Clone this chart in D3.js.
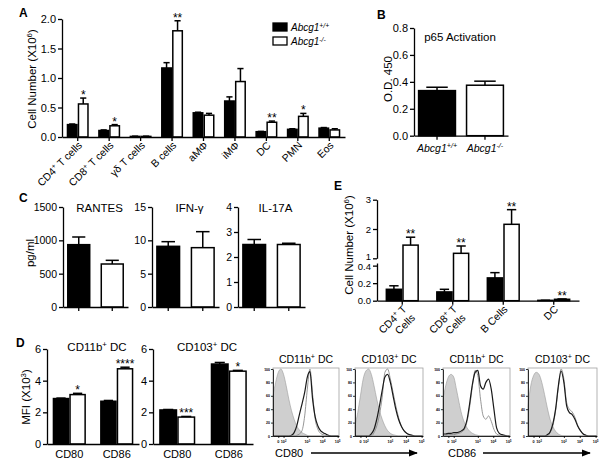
<!DOCTYPE html>
<html><head><meta charset="utf-8">
<script src="https://cdn.jsdelivr.net/npm/d3@7"></script>
<style>
body{margin:0;background:#fff;}
svg{display:block;font-family:"Liberation Sans",Arial,sans-serif;}
</style></head>
<body><svg id="c" width="600" height="464"></svg>
<script>
// ---------------- DATA ----------------
const genotypes = ["Abcg1^{+/+}", "Abcg1^{-/-}"];
// Panel A
const catsA = ["CD4^{+} T cells","CD8^{+} T cells","γδ T cells","B cells","aMΦ","iMΦ","DC","PMN","Eos"];
const wtA    = [0.21, 0.11, 0.01, 1.17, 0.41, 0.61, 0.09, 0.13, 0.15];
const wtErrA = [0.01, 0.01, 0.004, 0.09, 0.01, 0.07, 0.005, 0.01, 0.01];
const koA    = [0.56, 0.19, 0.01, 1.80, 0.37, 0.94, 0.25, 0.35, 0.12];
const koErrA = [0.10, 0.02, 0.004, 0.17, 0.03, 0.22, 0.02, 0.05, 0.02];
const sigA   = ["*","*","","**","","","**","*",""];
const ticksA = [0, 0.5, 1.0, 1.5, 2.0];
// Panel B
const valsB = [0.335, 0.375];
const errsB = [0.025, 0.03];
const ticksB = [0, 0.2, 0.4, 0.6, 0.8];
// Panel C
const titlesC = ["RANTES", "IFN-γ", "IL-17A"];
const valsC = [[935, 645], [9.1, 8.9], [2.5, 2.5]];
const errsC = [[115, 55], [0.7, 2.4], [0.2, 0.05]];
const maxC = [1500, 15, 4];
const ticksC = [[0, 500, 1000, 1500], [0, 5, 10, 15], [0, 1, 2, 3, 4]];
// Panel D
const titlesD = ["CD11b^{+} DC", "CD103^{+} DC"];
const catsD = ["CD80", "CD86"];
const wtD    = [[2.87, 2.70], [2.15, 5.05]];
const wtErrD = [[0.03, 0.05], [0.03, 0.10]];
const koD    = [[3.12, 4.75], [1.70, 4.60]];
const koErrD = [[0.08, 0.10], [0.04, 0.05]];
const sigD   = [["*", "****"], ["***", "*"]];
const ticksD = [0, 2, 4, 6];
// Panel E
const catsE = ["CD4^{+} T\nCells", "CD8^{+} T\nCells", "B Cells", "DC"];
const wtE    = [0.13, 0.10, 0.26, 0.004];
const wtErrE = [0.04, 0.03, 0.06, 0.001];
const koE    = [1.45, 1.17, 2.16, 0.016];
const koErrE = [0.27, 0.25, 0.50, 0.004];
const sigE   = ["**", "**", "**", "**"];
const ticksELow = [0, 0.2, 0.4];
const ticksEHigh = [1, 2, 3];
// Histograms (flow cytometry overlays)
const histTitles = ["CD11b^{+} DC", "CD103^{+} DC", "CD11b^{+} DC", "CD103^{+} DC"];
const histX = [0,0.04,0.08,0.12,0.16,0.20,0.24,0.28,0.32,0.36,0.40,0.44,0.48,0.52,0.56,0.60,0.64,0.68,0.72,0.76,0.80,0.84,0.88,0.92,0.96,1.00];
const histIso = [
  [60,80,95,100,92,75,55,38,25,15,9,5,3,1,0,0,0,0,0,0,0,0,0,0,0,0],
  [15,35,60,85,97,100,92,75,55,38,25,15,8,4,2,1,0,0,0,0,0,0,0,0,0,0],
  [55,75,88,92,88,70,50,32,20,12,7,4,2,1,0,0,0,0,0,0,0,0,0,0,0,0],
  [45,75,90,95,92,80,62,42,25,14,7,3,1,0,0,0,0,0,0,0,0,0,0,0,0,0]];
const histKo = [
  [0,0,0,0,0,0,0,1,5,15,32,48,65,88,96,55,28,15,8,5,3,1,0,0,0,0],
  [0,0,0,0,0,0,3,10,25,45,68,88,92,80,60,40,25,15,8,4,2,1,0,0,0,0],
  [3,3,4,4,5,5,6,8,12,25,50,78,95,98,75,70,80,85,70,40,12,4,2,1,0,0],
  [0,0,0,0,0,0,0,2,6,18,40,75,97,80,45,35,32,25,15,8,3,1,0,0,0,0]];
const histWt = [
  [0,0,0,0,0,0,0,0,0,1,3,8,30,70,100,62,25,10,4,2,1,0,0,0,0,0],
  [0,0,0,0,0,0,0,5,15,32,58,95,100,85,65,45,28,15,8,4,2,1,0,0,0,0],
  [1,1,2,2,2,3,4,6,10,22,45,75,98,90,55,30,25,30,22,10,3,1,0,0,0,0],
  [0,0,0,0,0,0,0,0,5,15,38,72,100,85,50,40,36,28,16,8,3,1,0,0,0,0]];
const histXTicks = [0.08, 0.16, 0.52, 0.75, 0.98];
const histXTickLabels = ["0", "10^{2}", "10^{3}", "10^{4}", "10^{5}"];
const histYTicks = [0, 20, 40, 60, 80, 100];
const markerLabels = ["CD80", "CD86"];

// ---------------- HELPERS ----------------
const svg = d3.select("#c");
function rich(t, s) {
  s.split(/(\^\{[^}]*\})/).forEach(p => {
    if (!p) return;
    if (p.startsWith("^{")) t.append("tspan").attr("baseline-shift", "super").attr("font-size", "68%").text(p.slice(2, -1));
    else t.append("tspan").text(p);
  });
  return t;
}
function text(x, y, s, o = {}) {
  const t = svg.append("text").attr("x", x).attr("y", y)
    .attr("font-size", o.size || 11).attr("text-anchor", o.anchor || "start")
    .attr("font-weight", o.weight || "normal").attr("font-style", o.style || "normal");
  if (o.transform) t.attr("transform", o.transform);
  return rich(t, s);
}
function styleAxis(g, fs) {
  g.selectAll(".domain").attr("stroke", "#000").attr("stroke-width", 1.3);
  g.selectAll(".tick line").attr("stroke", "#000").attr("stroke-width", 1.3);
  g.selectAll(".tick text").attr("font-size", fs || 10.5).attr("fill", "#000")
    .attr("font-family", '"Liberation Sans",Arial,sans-serif');
}
function yAxis(x, y, ticks, fmt, fs) {
  const g = svg.append("g").attr("transform", `translate(${x},0)`)
    .call(d3.axisLeft(y).tickValues(ticks).tickSize(4).tickSizeOuter(0).tickPadding(2).tickFormat(fmt));
  styleAxis(g, fs);
  return g;
}
function xAxis(x, yPos) {
  const g = svg.append("g").attr("transform", `translate(0,${yPos})`)
    .call(d3.axisBottom(x).tickSize(4).tickSizeOuter(0).tickFormat(""));
  styleAxis(g);
  return g;
}
function bar(bx, bw, y, v, e, fill) {
  svg.append("line").attr("x1", bx + bw / 2).attr("x2", bx + bw / 2).attr("y1", y(v)).attr("y2", y(v + e))
    .attr("stroke", "#000").attr("stroke-width", 1.5);
  svg.append("line").attr("x1", bx + bw / 2 - bw * 0.28).attr("x2", bx + bw / 2 + bw * 0.28)
    .attr("y1", y(v + e)).attr("y2", y(v + e)).attr("stroke", "#000").attr("stroke-width", 1.5);
  svg.append("rect").attr("x", bx + 0.75).attr("y", y(v)).attr("width", Math.max(0, bw - 1.5))
    .attr("height", Math.max(0, y(0) - y(v))).attr("fill", fill).attr("stroke", "#000").attr("stroke-width", 1.5);
}
function grouped(cats, range, pi, po, y, series, sig, starSize) {
  const x = d3.scaleBand().domain(cats).range(range).paddingInner(pi).paddingOuter(po);
  const xi = d3.scaleBand().domain(d3.range(series.length)).range([0, x.bandwidth()]);
  cats.forEach((c, i) => {
    series.forEach((s, si) => bar(x(c) + xi(si), xi.bandwidth(), y, s.vals[i], s.errs[i], s.fill));
    if (sig && sig[i]) {
      const last = series[series.length - 1];
      text(x(c) + xi(series.length - 1) + xi.bandwidth() / 2, y(last.vals[i] + last.errs[i]) + 1, sig[i],
        { anchor: "middle", size: starSize || 12 });
    }
  });
  return x;
}

// ---------------- PANEL A ----------------
text(19, 17, "A", { size: 12, weight: "bold" });
const yA = d3.scaleLinear().domain([0, 2]).range([137, 19]);
yAxis(62, yA, ticksA, d3.format(".1f"), 11);
const xA = grouped(catsA, [62, 345], 0.3, 0.15, yA,
  [{ vals: wtA, errs: wtErrA, fill: "#000" }, { vals: koA, errs: koErrA, fill: "#fff" }], sigA);
xAxis(xA, 137);
catsA.forEach(c => text(xA(c) + xA.bandwidth() / 2 + 5, 146, c,
  { anchor: "end", size: 10.5, transform: `rotate(-45,${xA(c) + xA.bandwidth() / 2 + 5},146)` }));
text(36, 79, "Cell Number (X10^{6})", { anchor: "middle", size: 11.5, transform: "rotate(-90,36,79)" });
// legend
const legY = d3.scaleBand().domain(genotypes).range([22, 50]);
genotypes.forEach((gname, i) => {
  svg.append("rect").attr("x", 273).attr("y", legY(gname) + 1).attr("width", 14).attr("height", 8)
    .attr("fill", i ? "#fff" : "#000").attr("stroke", "#000").attr("stroke-width", 1.3);
  text(291, legY(gname) + 9, gname, { size: 10, style: "italic" });
});

// ---------------- PANEL B ----------------
text(377, 19, "B", { size: 12, weight: "bold" });
const yB = d3.scaleLinear().domain([0, 0.8]).range([135.7, 28]);
yAxis(414, yB, ticksB, d3.format(".1f"), 11);
const xB = d3.scaleBand().domain(genotypes).range([414, 508]).paddingInner(0.2).paddingOuter(0.08);
genotypes.forEach((gname, i) => bar(xB(gname), xB.bandwidth(), yB, valsB[i], errsB[i], i ? "#fff" : "#000"));
xAxis(xB, 135.7);
genotypes.forEach(gname => text(xB(gname) + xB.bandwidth() / 2, 152, gname, { anchor: "middle", size: 10.5, style: "italic" }));
text(460, 41, "p65 Activation", { anchor: "middle", size: 11.5 });
text(392, 79, "O.D. 450", { anchor: "middle", size: 11.5, transform: "rotate(-90,392,79)" });

// ---------------- PANEL C ----------------
text(19, 202, "C", { size: 12, weight: "bold" });
const rangesC = [[63, 128], [152, 219], [238, 305]];
titlesC.forEach((t, k) => {
  const y = d3.scaleLinear().domain([0, maxC[k]]).range([307, 207]);
  yAxis(rangesC[k][0], y, ticksC[k], d3.format("d"), 10.5);
  const x = d3.scaleBand().domain(genotypes).range(rangesC[k]).paddingInner(0.3).paddingOuter(0.12);
  genotypes.forEach((gname, i) => bar(x(gname), x.bandwidth(), y, valsC[k][i], errsC[k][i], i ? "#fff" : "#000"));
  xAxis(x, 307);
  text((rangesC[k][0] + rangesC[k][1]) / 2 + 4, 212, t, { anchor: "middle", size: 11.5 });
});
text(34, 253, "pg/ml", { anchor: "middle", size: 11.5, transform: "rotate(-90,34,253)" });

// ---------------- PANEL D ----------------
text(16, 347, "D", { size: 12, weight: "bold" });
const rangesD = [[47, 139], [153, 253]];
const yD = d3.scaleLinear().domain([0, 6]).range([444, 349]);
titlesD.forEach((t, k) => {
  yAxis(rangesD[k][0], yD, ticksD, d3.format("d"), 11);
  const x = grouped(catsD, rangesD[k], 0.3, 0.12, yD,
    [{ vals: wtD[k], errs: wtErrD[k], fill: "#000" }, { vals: koD[k], errs: koErrD[k], fill: "#fff" }], sigD[k]);
  xAxis(x, 444).selectAll(".tick line").remove();
  catsD.forEach(c => text(x(c) + x.bandwidth() / 2, 458, c, { anchor: "middle", size: 11 }));
  text((rangesD[k][0] + rangesD[k][1]) / 2 + 4, 351, t, { anchor: "middle", size: 11.5 });
});
text(30, 397, "MFI (X10^{3})", { anchor: "middle", size: 11.5, transform: "rotate(-90,30,397)" });

// ---------------- PANEL E ----------------
text(334, 190, "E", { size: 12, weight: "bold" });
const yE = d3.scaleLinear().domain([0, 0.43, 1, 3]).range([300.7, 263, 258.3, 199.7]);
const yELow = d3.scaleLinear().domain([0, 0.43]).range([300.7, 263]);
const yEHigh = d3.scaleLinear().domain([1, 3]).range([258.3, 199.7]);
yAxis(377, yELow, ticksELow, d3.format(".1f"), 9.5)
  .selectAll(".tick text").filter(d => d === 0.4).attr("dy", "0.45em");
yAxis(377, yEHigh, ticksEHigh, d3.format("d"), 9.5)
  .selectAll(".tick text").filter(d => d === 1).attr("dy", "0.1em");
const xE = grouped(catsE, [377, 579], 0.34, 0.17, yE,
  [{ vals: wtE, errs: wtErrE, fill: "#000" }, { vals: koE, errs: koErrE, fill: "#fff" }], sigE);
xAxis(xE, 300.7);
catsE.forEach(c => {
  const cx = xE(c) + xE.bandwidth() / 2 + 5, cy = 310;
  const t = svg.append("text").attr("font-size", 10.5).attr("text-anchor", "end")
    .attr("transform", `translate(${cx},${cy}) rotate(-45)`);
  c.split("\n").forEach((line, li) => {
    const sub = t.append("tspan").attr("x", 0).attr("dy", li ? "1.15em" : 0);
    rich(sub, line);
  });
});
text(353, 245, "Cell Number (X10^{6})", { anchor: "middle", size: 11.5, transform: "rotate(-90,353,245)" });

// ---------------- HISTOGRAMS ----------------
const boxes = [[273, 339], [355, 423], [443, 510], [528, 597]];
const hy = d3.scaleLinear().domain([0, 100]).range([436, 369]);
boxes.forEach((b, k) => {
  const hx = d3.scaleLinear().domain([0, 1]).range(b);
  const iso = histX.map((v, i) => [v, histIso[k][i]]);
  svg.append("path").datum(iso)
    .attr("d", d3.area().x(d => hx(d[0])).y0(hy(0)).y1(d => hy(d[1])).curve(d3.curveMonotoneX))
    .attr("fill", "#cfcfcf").attr("stroke", "#9a9a9a").attr("stroke-width", 0.6);
  svg.append("path").datum(histX.map((v, i) => [v, histWt[k][i]]))
    .attr("d", d3.line().x(d => hx(d[0])).y(d => hy(d[1])).curve(d3.curveMonotoneX))
    .attr("fill", "none").attr("stroke", "#8a8a8a").attr("stroke-width", 0.9);
  svg.append("path").datum(histX.map((v, i) => [v, histKo[k][i]]))
    .attr("d", d3.line().x(d => hx(d[0])).y(d => hy(d[1])).curve(d3.curveMonotoneX))
    .attr("fill", "none").attr("stroke", "#1a1a1a").attr("stroke-width", 1.2);
  svg.append("rect").attr("x", b[0]).attr("y", hy(100) - 1).attr("width", b[1] - b[0]).attr("height", hy(0) - hy(100) + 1)
    .attr("fill", "none").attr("stroke", "#a0a0a0").attr("stroke-width", 0.8);
  const gy = svg.append("g").attr("transform", `translate(${b[0]},0)`)
    .call(d3.axisLeft(hy).tickValues(histYTicks).tickSize(2).tickSizeOuter(0).tickPadding(1));
  gy.selectAll(".domain").attr("stroke", "#000").attr("stroke-width", 0.8);
  gy.selectAll(".tick line").attr("stroke", "#000").attr("stroke-width", 0.8);
  gy.selectAll(".tick text").attr("font-size", 3.5).attr("font-weight", "bold");
  const gx = svg.append("g").attr("transform", `translate(0,${hy(0)})`)
    .call(d3.axisBottom(hx).tickValues(histXTicks).tickSize(2).tickSizeOuter(0).tickPadding(1).tickFormat(""));
  gx.selectAll(".domain").attr("stroke", "#000").attr("stroke-width", 0.8);
  gx.selectAll(".tick line").attr("stroke", "#000").attr("stroke-width", 0.8);
  histXTicks.forEach((p, i) => text(hx(p), hy(0) + 7, histXTickLabels[i], { anchor: "middle", size: 3.8, weight: "bold" }));
  text((b[0] + b[1]) / 2, 363, histTitles[k], { anchor: "middle", size: 10.5 });
});
// marker labels with arrows
svg.append("defs").append("marker").attr("id", "ah").attr("viewBox", "0 0 10 10").attr("refX", 9).attr("refY", 5)
  .attr("markerWidth", 6).attr("markerHeight", 6).attr("orient", "auto")
  .append("path").attr("d", "M0,1L10,5L0,9Z").attr("fill", "#000");
const arrowSpans = [[275, 311, 417], [448, 483, 590]];
markerLabels.forEach((m, i) => {
  const a = arrowSpans[i];
  text(a[0], 457, m, { size: 11 });
  svg.append("line").attr("x1", a[1]).attr("x2", a[2]).attr("y1", 453).attr("y2", 453)
    .attr("stroke", "#000").attr("stroke-width", 1.5).attr("marker-end", "url(#ah)");
});
</script></body></html>
